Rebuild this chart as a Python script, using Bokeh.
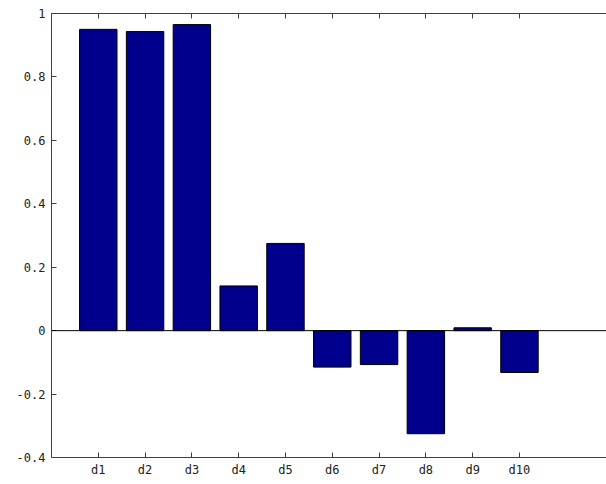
from bokeh.plotting import figure
from bokeh.models import Range1d, FixedTicker, LinearAxis, Span, ColumnDataSource
from bokeh.embed import file_html
from bokeh.resources import INLINE

categories = ["d1", "d2", "d3", "d4", "d5", "d6", "d7", "d8", "d9", "d10"]
values = [0.950, 0.943, 0.965, 0.141, 0.275, -0.115, -0.107, -0.325, 0.009, -0.132]
positions = list(range(1, len(categories) + 1))
y_ticks = [-0.4, -0.2, 0, 0.2, 0.4, 0.6, 0.8, 1]
y_tick_labels = ["-0.4", "-0.2", "0", "0.2", "0.4", "0.6", "0.8", "1"]

src = ColumnDataSource(dict(x=positions, top=values, cat=categories))

p = figure(width=606, height=484, output_backend="svg", toolbar_location=None,
           x_range=Range1d(0, 11.86), y_range=Range1d(-0.4, 1.0),
           min_border_left=51, min_border_right=0, min_border_top=13, min_border_bottom=27)
p.outline_line_color = None
p.xgrid.visible = False
p.ygrid.visible = False

p.vbar(x="x", top="top", bottom=0, width=0.8, source=src,
       fill_color="#00008C", line_color="#000000", line_width=1)

p.add_layout(Span(location=0, dimension="width", line_color="#000000", line_width=1))

xt = FixedTicker(ticks=positions)
yt = FixedTicker(ticks=y_ticks)

for ax in [p.xaxis[0], p.yaxis[0]]:
    ax.axis_line_color = "#404040"
    ax.major_tick_line_color = "#404040"
    ax.major_tick_in = 5
    ax.major_tick_out = 0
    ax.minor_tick_line_color = None
    ax.major_label_text_font = "DejaVu Sans Mono"
    ax.major_label_text_font_size = "12px"
    ax.major_label_text_color = "#222222"

p.xaxis[0].ticker = xt
p.xaxis[0].major_label_overrides = {pos: c for pos, c in zip(positions, categories)}
p.xaxis[0].major_label_standoff = 5
p.yaxis[0].ticker = yt
p.yaxis[0].major_label_overrides = {t: l for t, l in zip(y_ticks, y_tick_labels)}
p.yaxis[0].major_label_standoff = 6

top_axis = LinearAxis(ticker=xt, major_label_text_font_size="0px",
                      axis_line_color="#404040", major_tick_line_color="#404040",
                      major_tick_in=5, major_tick_out=0, minor_tick_line_color=None,
                      major_label_standoff=0)
top_axis.major_label_overrides = {pos: "" for pos in positions}
p.add_layout(top_axis, "above")

open("out.html", "w").write(file_html(p, INLINE))
